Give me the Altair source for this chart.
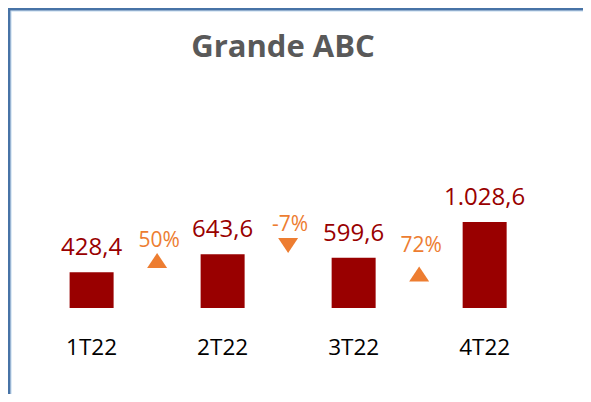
import altair as alt
import pandas as pd

# ---- data ----
title_text = "Grande ABC"
quarters = ["1T22", "2T22", "3T22", "4T22"]
values = [428.4, 643.6, 599.6, 1028.6]
value_labels = ["428,4", "643,6", "599,6", "1.028,6"]

pct_values = [50, -7, 72]
pct_labels = ["50%", "-7%", "72%"]
# vertical level (in value units) at which each change marker / its label sits
marker_level = [568, 747, 407]
pct_label_level = [730, 921, 670]

W, H = 575, 386
BAR = "#990000"
ORANGE = "#ED7D31"
FRAME = "#4773A6"
FONT = "Open Sans"

bars = pd.DataFrame({
    "pos": [i + 1 for i in range(len(quarters))],
    "quarter": quarters,
    "value": values,
    "zero": [0] * len(quarters),
    "label": value_labels,
})
chg = pd.DataFrame({
    "pos": [i + 1.5 for i in range(len(pct_values))],
    "pct": pct_values,
    "label": pct_labels,
    "level": marker_level,
    "label_level": pct_label_level,
    "dir": ["up" if v >= 0 else "down" for v in pct_values],
})

xs = alt.Scale(domain=[0.4, 4.7125], nice=False, zero=False)
ys = alt.Scale(domain=[-1028.6, 3588], nice=False, zero=False)
X = alt.X("pos:Q", scale=xs, axis=None)

base = alt.Chart(bars)
bar_layer = base.mark_bar(size=44, color=BAR).encode(
    x=X, y=alt.Y("value:Q", scale=ys, axis=None), y2="zero:Q"
)
val_text = base.mark_text(
    font=FONT, fontSize=24, color=BAR, baseline="alphabetic", dy=-17
).encode(x=X, y=alt.Y("value:Q", scale=ys, axis=None), text="label:N")
cat_text = base.mark_text(
    font=FONT, fontSize=22.5, color="#000000", baseline="alphabetic", dy=47
).encode(x=X, y=alt.Y("zero:Q", scale=ys, axis=None), text="quarter:N")

cbase = alt.Chart(chg)
tri = cbase.mark_point(filled=True, opacity=1, size=400, color=ORANGE).encode(
    x=X,
    y=alt.Y("level:Q", scale=ys, axis=None),
    shape=alt.Shape(
        "dir:N",
        scale=alt.Scale(
            domain=["up", "down"],
            range=["M0,-0.75L1,0.75L-1,0.75Z", "M-1,-0.75L1,-0.75L0,0.75Z"],
        ),
        legend=None,
    ),
)
pct_text = cbase.mark_text(
    font=FONT, fontSize=21, color=ORANGE, baseline="alphabetic", dx=2
).encode(x=X, y=alt.Y("label_level:Q", scale=ys, axis=None), text="label:N")

title = alt.Chart(pd.DataFrame({"t": [title_text]})).mark_text(
    font=FONT, fontSize=31, fontWeight="bold", color="#595959", baseline="alphabetic"
).encode(x=alt.value(275), y=alt.value(49), text="t:N")

frame_df = pd.DataFrame({"a": [0]})
left_line = alt.Chart(frame_df).mark_rule(color=FRAME, strokeWidth=2.5).encode(
    x=alt.value(1.2), y=alt.value(0), y2=alt.value(H)
)
top_line = alt.Chart(frame_df).mark_rule(color=FRAME, strokeWidth=2.5).encode(
    x=alt.value(0), x2=alt.value(W), y=alt.value(1.2)
)
left_light = alt.Chart(frame_df).mark_rule(color="#BDD7EE", strokeWidth=1).encode(
    x=alt.value(3), y=alt.value(3), y2=alt.value(H)
)
top_light = alt.Chart(frame_df).mark_rule(color="#BDD7EE", strokeWidth=1).encode(
    x=alt.value(3), x2=alt.value(W), y=alt.value(3)
)

chart = alt.layer(
    bar_layer, val_text, cat_text, tri, pct_text, title,
    left_light, top_light, left_line, top_line,
).properties(
    width=W, height=H, padding=0, autosize=alt.AutoSizeParams(type="none")
).configure_view(stroke=None).configure(background="white")

chart.save("out.html", embed_options={"renderer": "svg", "actions": False})
